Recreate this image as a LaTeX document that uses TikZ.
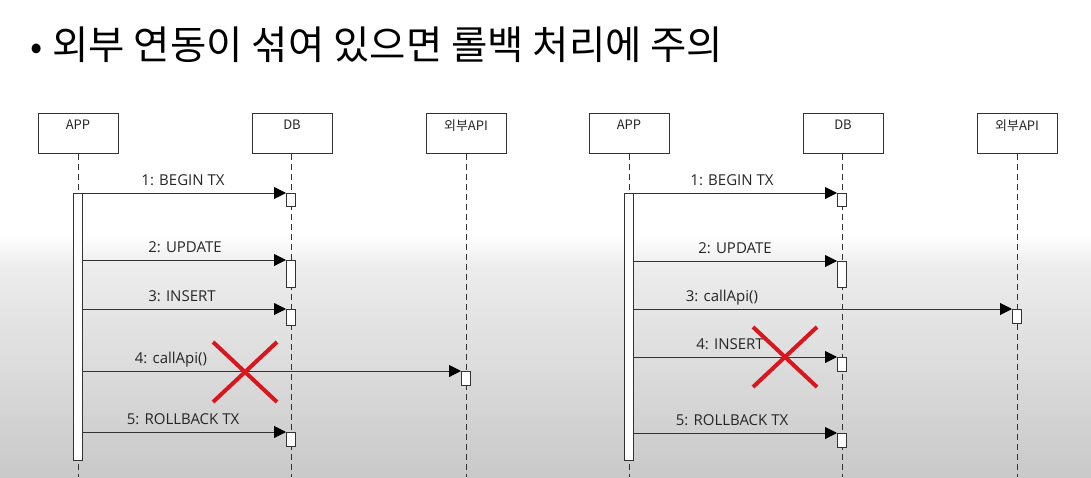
\documentclass[tikz,border=0pt]{standalone}
\usepackage{fontspec}
\setmainfont{Open Sans}
\newfontfamily\krfont{Noto Sans CJK KR}
\usetikzlibrary{arrows.meta}

\definecolor{linegray}{HTML}{333333}
\definecolor{textgray}{HTML}{262626}
\definecolor{crossred}{HTML}{D9161E}
\definecolor{bgmid}{HTML}{EDEDED}
\definecolor{bgbot}{HTML}{C9C9C9}

\tikzset{
  lifehead/.style={draw=linegray, line width=1pt, fill=white, minimum width=80pt, minimum height=40pt, inner sep=0pt},
  headtext/.style={anchor=north, inner sep=0pt, yshift=-7pt, font=\krfont\fontsize{13}{13}\selectfont, text=textgray},
  lifeline/.style={draw=linegray, line width=1pt, dash pattern=on 6pt off 4pt},
  actbox/.style={draw=linegray, line width=1pt, fill=white, minimum width=9pt, inner sep=0pt, anchor=north},
  msgarrow/.style={draw=linegray, line width=1pt, -{Triangle[length=12pt,width=12pt,color=black]}},
  msglabel/.style={anchor=base, inner sep=0pt, font=\fontsize{15}{15}\selectfont, text=textgray},
  redcross/.style={draw=crossred, line width=4pt},
}

\begin{document}
\begin{tikzpicture}[x=1pt,y=-1pt]
% Background
\fill[white] (0,0) rectangle (1091,477);
\shade[top color=white, bottom color=bgmid] (0,235) rectangle (1091,265);
\shade[top color=bgmid, bottom color=bgbot] (0,265) rectangle (1091,477);
\useasboundingbox (0,0) rectangle (1091,477);

% Title
\node[anchor=west, inner sep=0pt, font=\krfont\fontsize{39.5}{39.5}\selectfont, text=black] (title) at (30,45) {\fontsize{36}{36}\selectfont•\hspace{10pt}\fontsize{39.5}{39.5}\selectfont 외부 연동이 섞여 있으면 롤백 처리에 주의};

%%% Left diagram

% Lifeline heads
\node[lifehead, label={[headtext]north:APP}] (appA) at (78,133) {};
\node[lifehead, label={[headtext]north:DB}] (dbA) at (292,133) {};
\node[lifehead, label={[headtext]north:외부API}] (apiA) at (466,133) {};

% Lifelines
\coordinate (appAend) at (78,477);
\coordinate (dbAend) at (291,477);
\coordinate (apiAend) at (466,477);
\draw[lifeline] (appA.south) -- (appAend);
\draw[lifeline] (dbA.south -| dbAend) -- (dbAend);
\draw[lifeline] (apiA.south) -- (apiAend);

% Activation boxes
\node[actbox, minimum height=267pt] (barA) at (78,193) {};
\node[actbox, minimum height=13pt] (A1) at (291,193) {};
\node[actbox, minimum height=27pt] (A2) at (291,260) {};
\node[actbox, minimum height=16pt] (A3) at (291,309) {};
\node[actbox, minimum height=14pt] (A4) at (466,371) {};
\node[actbox, minimum height=14pt] (A5) at (291,432) {};

% Messages
\draw[msgarrow] (barA.east |- A1.north west) -- (A1.north west);
\draw[msgarrow] (barA.east |- A2.north west) -- (A2.north west);
\draw[msgarrow] (barA.east |- A3.north west) -- (A3.north west);
\draw[msgarrow] (barA.east |- A4.north west) -- (A4.north west);
\draw[msgarrow] (barA.east |- A5.north west) -- (A5.north west);
\node[msglabel] (A1text) at (183,185) {1: BEGIN TX};
\node[msglabel] (A2text) at (185,252) {2: UPDATE};
\node[msglabel] (A3text) at (182,301) {3: INSERT};
\node[msglabel] (A4text) at (171,363) {4: callApi()};
\node[msglabel] (A5text) at (183,424) {5: ROLLBACK TX};

% Red cross
\draw[redcross] (213,342) -- (277,402);
\draw[redcross] (213,402) -- (277,342);

%%% Right diagram

% Lifeline heads
\node[lifehead, label={[headtext]north:APP}] (appB) at (629,133) {};
\node[lifehead, label={[headtext]north:DB}] (dbB) at (843,133) {};
\node[lifehead, label={[headtext]north:외부API}] (apiB) at (1017,133) {};

% Lifelines
\coordinate (appBend) at (629,477);
\coordinate (dbBend) at (842,477);
\coordinate (apiBend) at (1017,477);
\draw[lifeline] (appB.south) -- (appBend);
\draw[lifeline] (dbB.south -| dbBend) -- (dbBend);
\draw[lifeline] (apiB.south) -- (apiBend);

% Activation boxes
\node[actbox, minimum height=267pt] (barB) at (629,193) {};
\node[actbox, minimum height=13pt] (B1) at (842,193) {};
\node[actbox, minimum height=26pt] (B2) at (842,261) {};
\node[actbox, minimum height=14pt] (B3) at (1017,309) {};
\node[actbox, minimum height=14pt] (B4) at (842,357) {};
\node[actbox, minimum height=14pt] (B5) at (842,433) {};

% Messages
\draw[msgarrow] (barB.east |- B1.north west) -- (B1.north west);
\draw[msgarrow] (barB.east |- B2.north west) -- (B2.north west);
\draw[msgarrow] (barB.east |- B3.north west) -- (B3.north west);
\draw[msgarrow] (barB.east |- B4.north west) -- (B4.north west);
\draw[msgarrow] (barB.east |- B5.north west) -- (B5.north west);
\node[msglabel] (B1text) at (732,185) {1: BEGIN TX};
\node[msglabel] (B2text) at (735,253) {2: UPDATE};
\node[msglabel] (B3text) at (722,301) {3: callApi()};
\node[msglabel] (B4text) at (730,349) {4: INSERT};
\node[msglabel] (B5text) at (732,425) {5: ROLLBACK TX};

% Red cross
\draw[redcross] (753,327) -- (817,387);
\draw[redcross] (753,387) -- (817,327);
\end{tikzpicture}
\end{document}
